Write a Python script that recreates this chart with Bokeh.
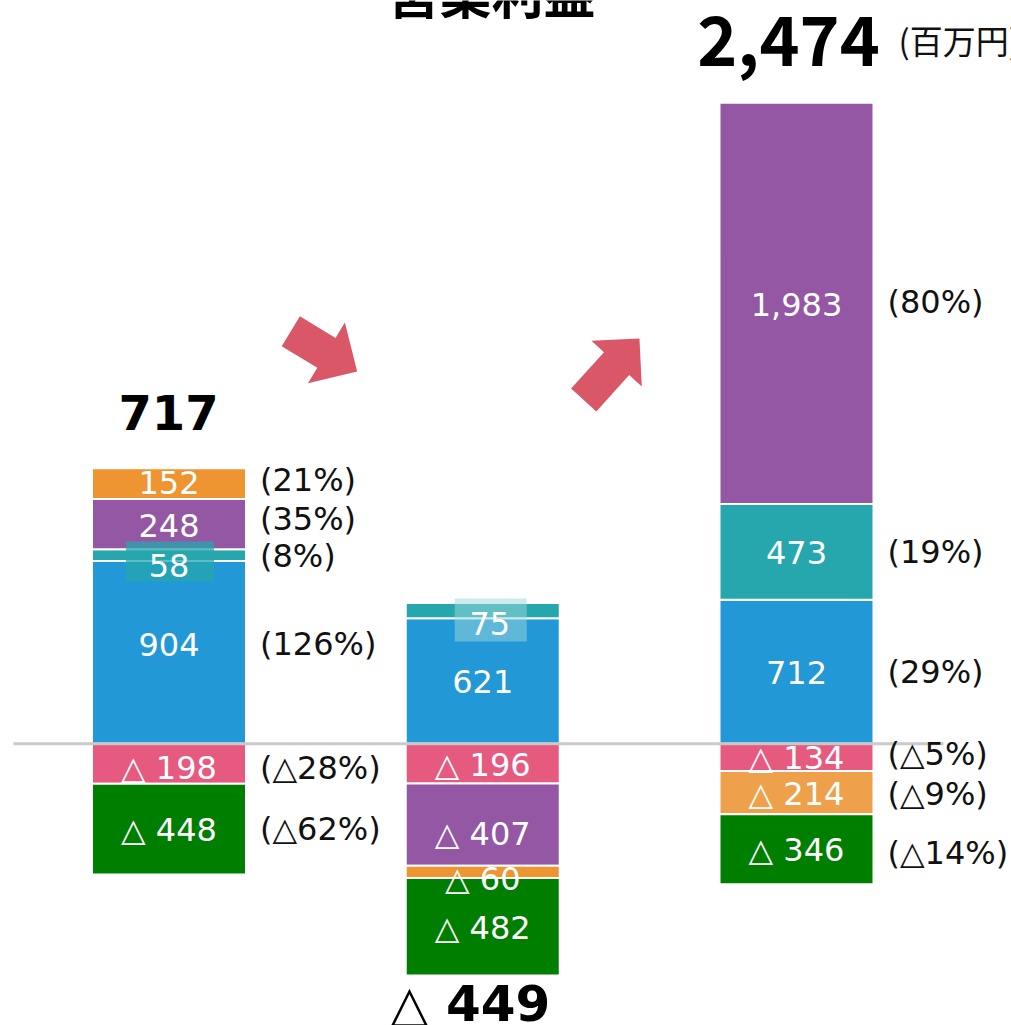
import numpy as np
from bokeh.plotting import figure
from bokeh.models import Range1d, ColumnDataSource
from bokeh.core.properties import value
from bokeh.embed import file_html
from bokeh.resources import INLINE

# ---------------- data ----------------
title_text = "営業利益"
unit_text = "(百万円)"
totals = [717, -449, 2474]

seg_names = ["blue", "teal", "purple", "orange", "pink", "green"]
blue = [904, 621, 712]
teal = [58, 75, 473]
purple = [248, -407, 1983]
orange = [152, -60, -214]
pink = [-198, -196, -134]
green = [-448, -482, -346]

pct_blue = ["(126%)", "", "(29%)"]
pct_teal = ["(8%)", "", "(19%)"]
pct_purple = ["(35%)", "", "(80%)"]
pct_orange = ["(21%)", "", "(△9%)"]
pct_pink = ["(△28%)", "", "(△5%)"]
pct_green = ["(△62%)", "", "(△14%)"]

# ---------------- styling / layout ----------------
series = {"blue": blue, "teal": teal, "purple": purple,
          "orange": orange, "pink": pink, "green": green}
pcts = {"blue": pct_blue, "teal": pct_teal, "purple": pct_purple,
        "orange": pct_orange, "pink": pct_pink, "green": pct_green}
colors = {"blue": "#2398D6", "teal": "#26A7AD", "purple": "#9457A3",
          "orange": "#EE9430", "pink": "#E75A80", "green": "#007E00"}
color_override = {(2, "orange"): "#EFA04B"}
pos_order = ["blue", "teal", "purple", "orange"]
neg_order = ["pink", "purple", "orange", "green"]

W, H = 1011, 1025
PX = 313.75          # px per x unit
S = 0.20234          # px per value unit
X0 = 168.5           # px of first bar centre
Y0 = 743.3           # px of zero line
BAR_W = 154 / PX

def xd(px):
    return (px - X0) / PX

def yd(px):
    return (Y0 - px) / S

def fmt(v):
    s = f"{abs(v):,}"
    return s if v >= 0 else "△ " + s

# label offsets in px (down positive)
default_off = 1
label_off = {(0, "teal"): 10, (1, "teal"): 13, (0, "blue"): -8,
             (1, "purple"): 9, (1, "orange"): 7, (0, "orange"): -1,
             (0, "pink"): 4}
label_xoff = {(1, "teal"): 7}
pct_off = {(0, "orange"): -4, (0, "purple"): -5, (0, "teal"): 1,
           (0, "blue"): -8, (0, "pink"): 4, (2, "green"): 4,
           (2, "pink"): -3, (2, "orange"): 1, (2, "purple"): -1}
hl_boxes = {(0, "teal"): (88, 40, "#26A7AD", 0.75, 3.5),
            (1, "teal"): (72, 43, "#9ED8DA", 0.5, 3.5)}

p = figure(width=W, height=H, output_backend="svg", toolbar_location=None,
           x_range=Range1d(xd(0), xd(W)), y_range=Range1d(yd(H), yd(0)),
           min_border=0, outline_line_color=None)
p.axis.visible = False
p.grid.visible = False
p.background_fill_color = "white"
p.border_fill_color = "white"

L, R, T, B, C = [], [], [], [], []
vl = dict(x=[], y=[], t=[])
pl = dict(x=[], y=[], t=[])
boxes = dict(x=[], y=[], w=[], h=[], c=[], a=[])
tops, bottoms = [], []
for i in range(3):
    segs = []
    acc = 0.0
    for n in pos_order:
        v = series[n][i]
        if v > 0:
            segs.append((n, acc, acc + v, v))
            acc += v
    tops.append(acc)
    acc = 0.0
    for n in neg_order:
        v = series[n][i]
        if v < 0:
            segs.append((n, acc + v, acc, v))
            acc += v
    bottoms.append(acc)
    for n, b, t, v in segs:
        L.append(i - BAR_W / 2); R.append(i + BAR_W / 2)
        B.append(b); T.append(t)
        C.append(color_override.get((i, n), colors[n]))
        mid = (b + t) / 2
        off = label_off.get((i, n), default_off)
        lx = i + label_xoff.get((i, n), 0) / PX
        ly = mid - off / S
        vl["x"].append(lx); vl["y"].append(ly); vl["t"].append(fmt(v))
        if (i, n) in hl_boxes:
            bw, bh, bc, ba, bo = hl_boxes[(i, n)]
            boxes["x"].append(lx + 1 / PX); boxes["y"].append(ly + bo / S)
            boxes["w"].append(bw / PX); boxes["h"].append(bh / S)
            boxes["c"].append(bc); boxes["a"].append(ba)
        pt = pcts[n][i]
        if pt:
            pl["x"].append(i + BAR_W / 2 + 14 / PX)
            pl["y"].append(mid - pct_off.get((i, n), 0) / S)
            pl["t"].append(pt)

p.quad(left=L, right=R, top=T, bottom=B, fill_color=C,
       line_color="white", line_width=2)

p.rect(x="x", y="y", width="w", height="h", fill_color="c", fill_alpha="a",
       line_color=None, source=ColumnDataSource(boxes))

# zero line
p.segment(x0=[xd(13)], y0=[0], x1=[xd(943)], y1=[0],
          line_color="#C4C4C4", line_width=3, line_alpha=0.9)

p.text(x="x", y="y", text="t", source=ColumnDataSource(vl),
       text_font=value("DejaVu Sans"), text_font_size="32px",
       text_color="white", text_align="center", text_baseline="middle")
p.text(x="x", y="y", text="t", source=ColumnDataSource(pl),
       text_font=value("DejaVu Sans"), text_font_size="32px",
       text_color="#111111", text_align="left", text_baseline="middle")

# totals
p.text(x=[0 - 0.5 / PX], y=[tops[0] + 56 / S], text=[fmt(totals[0])],
       text_font=value("DejaVu Sans"), text_font_style="bold",
       text_font_size="48px", text_color="black",
       text_align="center", text_baseline="middle")
p.text(x=[1 - 12.5 / PX], y=[bottoms[1] - 29 / S], text=[fmt(totals[1])],
       text_font=value("DejaVu Sans"), text_font_style="bold",
       text_font_size="50px", text_color="black",
       text_align="center", text_baseline="middle")
p.text(x=[2 - 8 / PX], y=[tops[2] + 62 / S], text=[fmt(totals[2])],
       text_font=value("Noto Sans CJK JP"), text_font_style="bold",
       text_font_size="68px", text_color="black",
       text_align="center", text_baseline="middle")
p.text(x=[xd(898)], y=[tops[2] + 63 / S], text=[unit_text],
       text_font=value("Noto Sans CJK JP"), text_font_size="33px",
       text_color="#111111", text_align="left", text_baseline="middle")

# title (partly above the page, as in the reference)
p.text(x=[xd(491)], y=[yd(-9)], text=[title_text],
       text_font=value("Noto Sans CJK JP"), text_font_style="bold",
       text_font_size="52px", text_color="black",
       text_align="center", text_baseline="middle")

# arrows (decorations)
def arrow(tail_x, tail_y, ang_deg, length, shaft_w, head_len, head_w):
    u = np.array([0, length - head_len, length - head_len, length,
                  length - head_len, length - head_len, 0])
    v = np.array([shaft_w / 2, shaft_w / 2, head_w / 2, 0,
                  -head_w / 2, -shaft_w / 2, -shaft_w / 2])
    th = np.radians(ang_deg)
    X = u * np.cos(th) - v * np.sin(th)
    Y = u * np.sin(th) + v * np.cos(th)
    return list(tail_x + X / PX), list(tail_y + Y / S)

ax1, ay1 = arrow(xd(290.3), yd(330.7), -31.3, 77.7, 35, 36, 71)
ax2, ay2 = arrow(xd(583.2), yd(399.5), 47.8, 83, 34, 34, 68)
p.patches(xs=[ax1, ax2], ys=[ay1, ay2], fill_color="#D95766",
          line_color=None)

open("out.html", "w").write(file_html(p, INLINE))
